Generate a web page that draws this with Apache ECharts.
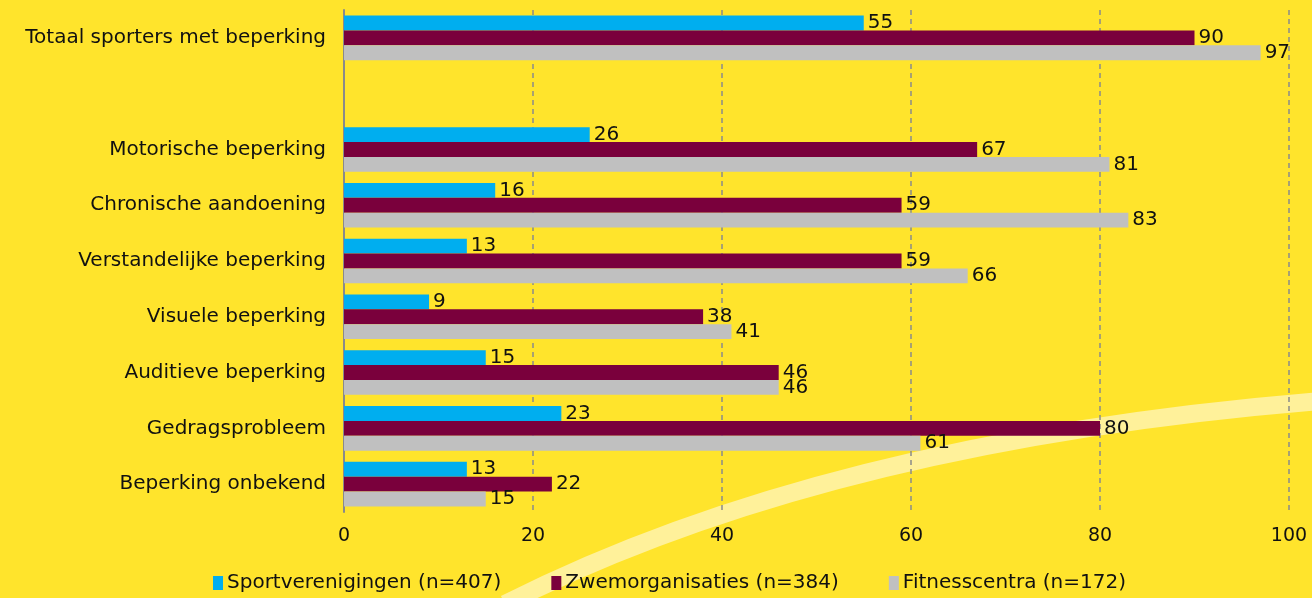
<!DOCTYPE html>
<html lang="nl">
<head>
  <meta charset="UTF-8">
  <title>Sporters met beperking</title>
  <style>
    html, body { margin: 0; padding: 0; background: #FFE42C; }
    #chart { width: 1312px; height: 598px; }
  </style>
</head>
<body>
  <div id="chart"></div>
  <script src="https://cdn.jsdelivr.net/npm/echarts@6/dist/echarts.min.js"></script>
  <script>
    // categorieen (lege regel tussen totaal en de soorten beperking)
    const categories = [
      'Totaal sporters met beperking', '',
      'Motorische beperking', 'Chronische aandoening', 'Verstandelijke beperking',
      'Visuele beperking', 'Auditieve beperking', 'Gedragsprobleem', 'Beperking onbekend'
    ];
    const sportverenigingen = [55, null, 26, 16, 13, 9, 15, 23, 13];
    const zwemorganisaties = [90, null, 67, 59, 59, 38, 46, 80, 22];
    const fitnesscentra = [97, null, 81, 83, 66, 41, 46, 61, 15];
    const seriesNames = ['Sportverenigingen (n=407)', 'Zwemorganisaties (n=384)', 'Fitnesscentra (n=172)'];
    const xTicks = [0, 20, 40, 60, 80, 100];

    const font = 'DejaVu Sans';
    let chart = echarts.init(document.getElementById('chart'));

    function barSeries(name, data, color) {
      return {
        name: name,
        type: 'bar',
        data: data,
        barGap: '0%',
        barCategoryGap: '20%',
        itemStyle: { color: color },
        label: {
          show: true,
          position: 'right',
          distance: 4,
          color: '#111',
          fontFamily: font,
          fontSize: 20
        }
      };
    }

    let option = {
      backgroundColor: '#FFE42C',
      animation: false,
      textStyle: { fontFamily: font },
      // lichte boog op de achtergrond
      graphic: [{
        type: 'bezierCurve',
        z: -10,
        silent: true,
        shape: { x1: 505, y1: 604, cpx1: 827, cpy1: 441, x2: 1320, y2: 401 },
        style: { stroke: '#FFF19A', lineWidth: 18, fill: null }
      }],
      grid: { left: 344, right: 23, top: 10, bottom: 86 },
      legend: {
        bottom: 0,
        left: 208,
        itemWidth: 10,
        itemHeight: 14,
        itemGap: 50,
        icon: 'rect',
        textStyle: { fontFamily: font, fontSize: 20, color: '#111', padding: [0, 0, 0, -1] },
        data: seriesNames
      },
      xAxis: {
        type: 'value',
        min: xTicks[0],
        max: xTicks[xTicks.length - 1],
        interval: 20,
        axisLine: { show: false },
        axisTick: { show: false },
        axisLabel: { fontFamily: font, fontSize: 19, color: '#111', margin: 15 },
        splitLine: { show: true, lineStyle: { color: '#8a8a8a', type: [5, 4], width: 1.5 } }
      },
      yAxis: {
        type: 'category',
        inverse: true,
        data: categories,
        axisLine: { show: true, lineStyle: { color: '#8a8a8a', width: 2 } },
        axisTick: { show: false },
        axisLabel: { fontFamily: font, fontSize: 20, color: '#111', margin: 18 }
      },
      series: [
        barSeries(seriesNames[0], sportverenigingen, '#00AEEF'),
        barSeries(seriesNames[1], zwemorganisaties, '#7A003C'),
        barSeries(seriesNames[2], fitnesscentra, '#C0C0C0')
      ]
    };
    chart.setOption(option);
  </script>
</body>
</html>
